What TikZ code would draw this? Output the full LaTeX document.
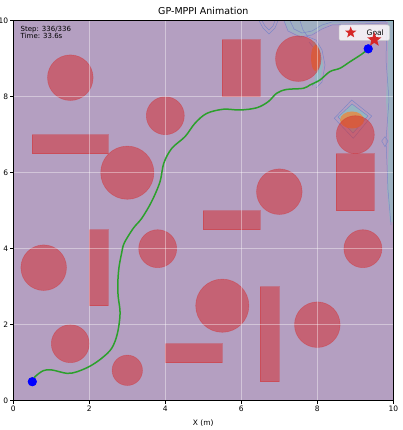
\documentclass[tikz,border=0pt]{standalone}
\usepackage{fontspec}
\setmainfont{DejaVu Sans}
\usetikzlibrary{shapes.geometric}
\definecolor{bgpurple}{RGB}{180,159,193}
\definecolor{tabred}{RGB}{214,39,40}
\definecolor{tabgreen}{RGB}{44,160,44}
\definecolor{cline}{RGB}{125,135,200}
\definecolor{cteal}{RGB}{120,205,195}
\definecolor{corange}{RGB}{228,140,70}
\tikzset{
  obst/.style={fill=tabred, fill opacity=0.5, draw=tabred, draw opacity=0.35, line width=0.6pt},
  gridline/.style={draw=white, draw opacity=0.4, line width=0.8pt},
  ticklab/.style={font=\fontsize{7.5}{9}\selectfont, inner sep=0pt},
  dot/.style={circle, fill=blue, inner sep=0pt, minimum size=9pt},
  goalstar/.style={star, star points=5, star point ratio=2.4, fill=tabred, draw=none, inner sep=0pt, minimum size=#1},
  contour/.style={draw=cline, line width=0.5pt}
}
\begin{document}
\begin{tikzpicture}[x=1pt,y=-1pt]
\useasboundingbox (0,0) rectangle (403,430);
\fill[white] (0,0) rectangle (403,430);
% plot background
\fill[bgpurple] (13.3,20.7) rectangle (393.3,400.7);
% contour approximations (top right)
\fill[cteal, opacity=0.35] (284,20.7) -- (288,30) -- (300,36) -- (312,34) -- (322,28) -- (330,24) -- (386,22) -- (393.3,22) -- (393.3,20.7) -- cycle;
\draw[contour] (284,20.7) -- (288,31) -- (300,37) -- (312,35) -- (322,29) -- (332,25) -- (386,23);
\draw[contour] (290,20.7) -- (294,29) -- (302,33) -- (312,31) -- (322,25) -- (332,22) -- (386,21.5);
\draw[contour] (259,20.7) -- (263,28) -- (269,34) -- (275,28) -- (278,20.7);
\draw[contour] (262,20.7) -- (265,26) -- (269,30) -- (273,26) -- (275,20.7);
\draw[contour] (300,20.7) -- (303,30) -- (308,37);
\draw[contour] (306,36) -- (316,40) -- (322,50) -- (325,65) -- (322,82) -- (316,88);
\draw[contour] (309,42) -- (317,52) -- (319,66) -- (317,80) -- (312,86);
\fill[cteal, opacity=0.5] (312,40) -- (320,48) -- (323,65) -- (320,80) -- (314,86) -- (316,66) -- cycle;
\fill[corange, opacity=0.85] (315.5,58) ellipse [x radius=4.5, y radius=13];
\fill[cteal, opacity=0.4] (388,20.7) -- (393.3,20.7) -- (393.3,222) -- (390,222) -- (387,190) -- (389,140) -- (386,100) -- (388,60) -- cycle;
\draw[contour] (387,22) -- (386,60) -- (389,100) -- (386,140) -- (388,190) -- (391,225);
\draw[contour] (381.7,141) -- (385,136.7) -- (388,141) -- (385,146.7) -- cycle;
\fill[cteal, opacity=0.5] (338,117) -- (352,104) -- (368,116) -- (353,133) -- cycle;
\draw[contour] (334.3,118.3) -- (351.7,100) -- (371.7,116) -- (353.3,138.3) -- cycle;
\draw[contour] (338,117) -- (352,104) -- (368,116) -- (353,133) -- cycle;
\fill[corange, opacity=0.85] (352,120) ellipse [x radius=12, y radius=8.5];
\begin{scope}[shift={(13.3,400.7)}, x=38pt, y=38pt]
  % obstacles: circles
  \foreach \cx/\cy/\r in {1.5/8.5/0.6, 4/7.5/0.5, 3/6/0.7, 7.5/9/0.6, 9/7/0.5, 7/5.5/0.6, 0.8/3.5/0.6, 3.8/4/0.5, 5.5/2.5/0.7, 9.2/4/0.5, 8/2/0.6, 1.5/1.5/0.5, 3/0.8/0.4}
    \path[obst] (\cx,\cy) circle [radius=\r];
  % obstacles: rectangles
  \foreach \xa/\ya/\xb/\yb in {0.5/6.5/2.5/7, 5.5/8/6.5/9.5, 8.5/5/9.5/6.5, 5/4.5/6.5/5, 2/2.5/2.5/4.5, 4/1/5.5/1.5, 6.5/0.5/7/3}
    \path[obst] (\xa,\ya) rectangle (\xb,\yb);
  % grid
  \foreach \g in {2,4,6,8} {
    \draw[gridline] (\g,0) -- (\g,10);
    \draw[gridline] (0,\g) -- (10,\g);
  }
  % trajectory
  \node[dot] (start) at (0.5,0.5) {};
  \node[dot] (robot) at (9.34,9.26) {};
  \draw[tabgreen, line width=1.5pt, line join=round] plot[smooth, tension=0.55] coordinates {
    (0.5,0.5) (0.57,0.63) (0.79,0.79) (1.01,0.81) (1.41,0.72) (1.67,0.76) (2.02,0.91) (2.33,1.12) (2.59,1.38) (2.74,1.77) (2.81,2.30) (2.76,2.74) (2.75,3.09) (2.78,3.5) (2.85,3.88) (2.92,4.15) (3.16,4.54) (3.38,4.80) (3.64,5.24) (3.86,5.76) (3.96,6.25) (4.17,6.64) (4.52,6.95) (4.78,7.30) (5.09,7.56) (5.53,7.67) (5.97,7.65) (6.41,7.71) (6.71,7.87) (6.93,8.09) (7.19,8.19) (7.63,8.22) (7.81,8.31) (8.07,8.44) (8.33,8.66) (8.60,8.75) (8.86,8.92) (9.17,9.12) (9.34,9.26)};
  \node[dot] at (start) {};
  \node[dot] at (robot) {};
  % frame
  \draw[black, line width=0.8pt] (0,0) rectangle (10,10);
  % ticks
  \foreach \t in {0,2,4,6,8,10} {
    \draw[black, line width=0.7pt] (\t,0) -- ++(0,-3.5pt);
    \node[ticklab, anchor=north] (xt\t) at ([yshift=-5.5pt]\t,0) {\t};
    \draw[black, line width=0.7pt] (0,\t) -- ++(-3.5pt,0);
    \node[ticklab, anchor=east] (yt\t) at ([xshift=-5pt]0,\t) {\t};
  }
\end{scope}
% legend
\draw[fill=white, fill opacity=0.8, draw=black!20, rounded corners=2pt, line width=0.5pt] (339,25) rectangle (389.5,40.5);
\node[goalstar=12pt] (legstar) at (350.7,32.5) {};
\node[font=\fontsize{7.5}{9}\selectfont, anchor=west, inner sep=0pt] (legtext) at (366.5,32.5) {Goal};
% goal marker on top
\node[goalstar=15pt] (goal) at (374.3,39.7) {};
% annotations
\node[font=\fontsize{7}{8}\selectfont, anchor=north west, align=left, inner sep=0pt] (info) at (20.5,26.5) {Step: 336/336\\[-1.5pt]Time: 33.6s};
\node[font=\fontsize{9.5}{11}\selectfont] (title) at (203.3,11) {GP-MPPI Animation};
\node[font=\fontsize{7.5}{9}\selectfont] (xlabel) at (203.3,423) {X (m)};
\end{tikzpicture}
\end{document}
